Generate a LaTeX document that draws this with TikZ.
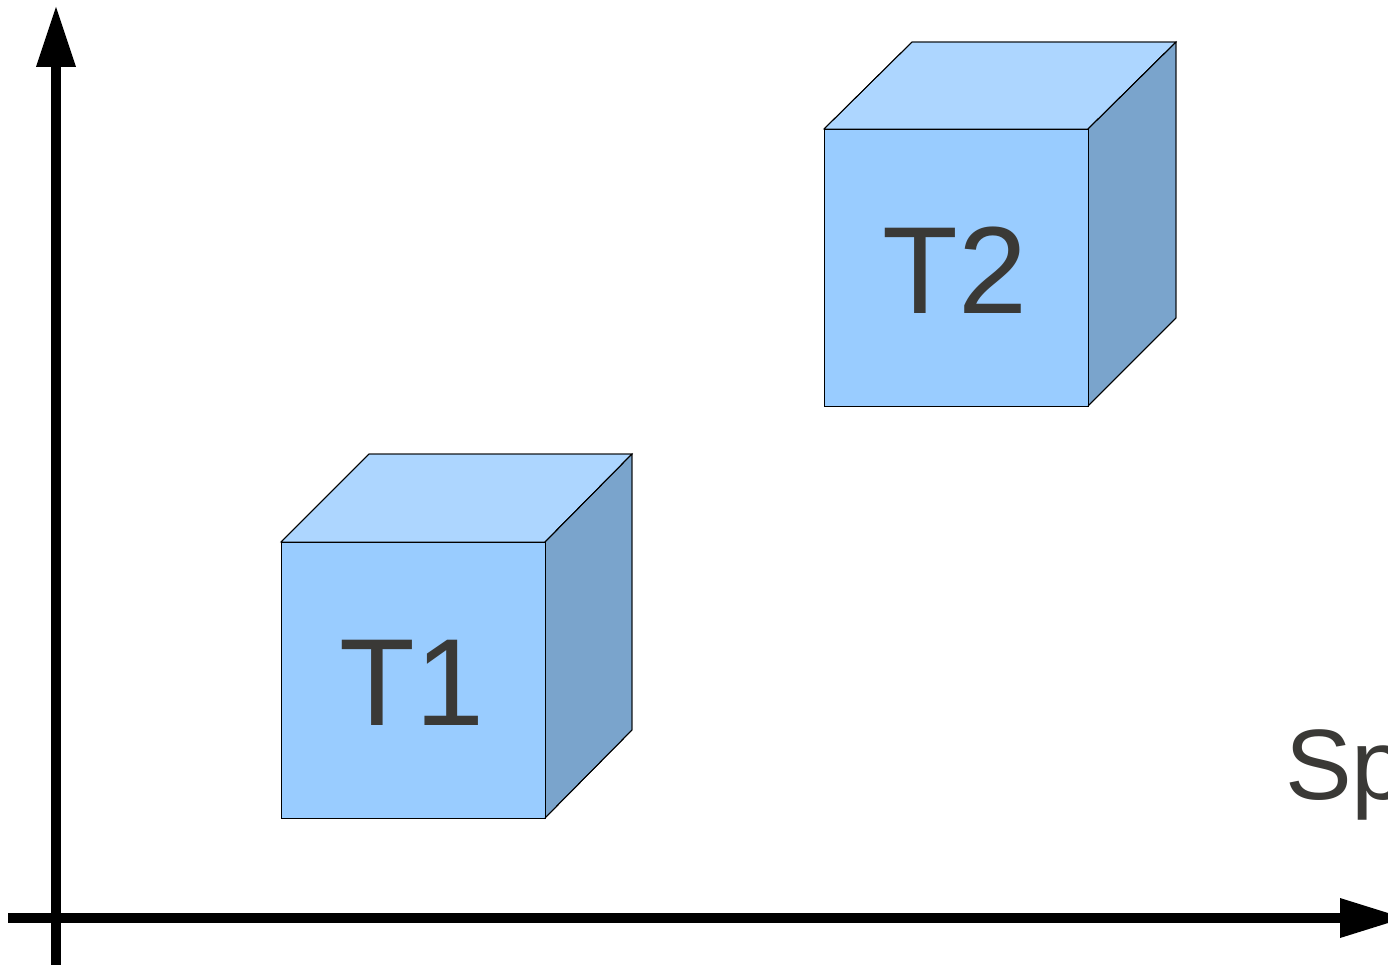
\documentclass[tikz,border=0pt]{standalone}
\usepackage{fontspec}
\setmainfont{Liberation Sans}
\definecolor{frontc}{HTML}{99CCFF}
\definecolor{topc}{HTML}{ADD6FF}
\definecolor{sidec}{HTML}{7AA4CC}
\definecolor{txtc}{HTML}{3A3936}
\begin{document}
\begin{tikzpicture}[x=1pt,y=-1pt,
  face/.style={draw=black,line width=0.9pt,line join=miter},
  axisline/.style={line width=10pt},
  head/.style={fill=black},
  cubelabel/.style={text=txtc,inner sep=0pt,anchor=base,font=\fontsize{124}{140}\selectfont},
  axislabel/.style={text=txtc,inner sep=0pt,anchor=base west,font=\fontsize{100}{120}\selectfont}]
\useasboundingbox (0,0) rectangle (1388,965);
\clip (0,0) rectangle (1388,965);
\fill[white] (0,0) rectangle (1388,965);
% axes
\coordinate (yb) at (56,965);
\coordinate (yt) at (56,62);
\coordinate (xl) at (8,918);
\coordinate (xr) at (1344,918);
\draw[axisline] (yb) -- (yt);
\draw[axisline] (xl) -- (xr);
\fill[head] (36,67) -- (56,7) -- (76,67) -- cycle;
\fill[head] (1340,898) -- (1404,918) -- (1340,938) -- cycle;
% cube T1
\fill[face,fill=topc] (281,542) -- (369,454) -- (632,454) -- (545,542) -- cycle;
\fill[face,fill=sidec] (545,542) -- (632,454) -- (632,730) -- (545,818) -- cycle;
\filldraw[face,fill=frontc] (281,542) rectangle (545,818);
\draw[face] (281,542) -- (369,454) -- (632,454) -- (545,542);
\draw[face] (632,454) -- (632,730) -- (545,818);
\node[cubelabel] (t1) at (412,725) {T1};
% cube T2
\fill[face,fill=topc] (824,129) -- (912,42) -- (1176,42) -- (1088,129) -- cycle;
\fill[face,fill=sidec] (1088,129) -- (1176,42) -- (1176,318) -- (1088,406) -- cycle;
\filldraw[face,fill=frontc] (824,129) rectangle (1088,406);
\draw[face] (824,129) -- (912,42) -- (1176,42) -- (1088,129);
\draw[face] (1176,42) -- (1176,318) -- (1088,406);
\node[cubelabel] (t2) at (955,313) {T2};
% axis label
\node[axislabel] (sp) at (1285,799) {Sp};
\end{tikzpicture}
\end{document}
